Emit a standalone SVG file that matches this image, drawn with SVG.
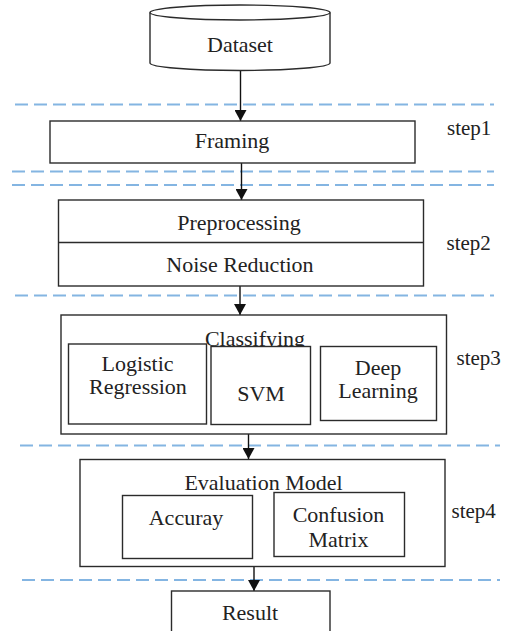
<svg xmlns="http://www.w3.org/2000/svg" width="509" height="631" viewBox="0 0 509 631">
<defs>
<marker id="arr" markerWidth="12" markerHeight="12" refX="11" refY="6" orient="auto" markerUnits="userSpaceOnUse">
<path d="M0,0 L11,6 L0,12 Z" fill="#111"/>
</marker>
<style>
.box{fill:#fff;stroke:#2b2b2b;stroke-width:1.4}
.dash{stroke:#84b5e2;stroke-width:1.8;stroke-dasharray:13 6;fill:none}
.con{stroke:#111;stroke-width:1.4;fill:none}
</style>
</defs>
<rect width="509" height="631" fill="#fff"/>
<g id="dividers">
<line class="dash" x1="15" y1="104.5" x2="494" y2="104.5"/>
<line class="dash" x1="12" y1="171.5" x2="494" y2="171.5"/>
<line class="dash" x1="12" y1="185" x2="494" y2="185"/>
<line class="dash" x1="15" y1="295.5" x2="494" y2="295.5"/>
<line class="dash" x1="20" y1="445.5" x2="500" y2="445.5"/>
<line class="dash" x1="22" y1="580" x2="500" y2="580"/>
</g>
<g id="connectors">
<line class="con" x1="240.5" y1="70" x2="240.5" y2="121" marker-end="url(#arr)"/>
<line class="con" x1="241.5" y1="163" x2="241.5" y2="200" marker-end="url(#arr)"/>
<line class="con" x1="240" y1="286" x2="240" y2="315" marker-end="url(#arr)"/>
<line class="con" x1="248.5" y1="434" x2="248.5" y2="459" marker-end="url(#arr)"/>
<line class="con" x1="254" y1="567" x2="254" y2="591" marker-end="url(#arr)"/>
</g>
<g id="dataset">
<path class="box" d="M150,12.5 L150,63 A90,7.5 0 0 0 330,63 L330,12.5"/>
<ellipse class="box" cx="240" cy="12.5" rx="90" ry="7.5"/>
<text x="240" y="52" font-family="Liberation Serif" font-size="22" fill="#222" text-anchor="middle">Dataset</text>
</g>
<g id="framing">
<rect class="box" x="50" y="121" width="365" height="42"/>
<text x="232" y="148" font-family="Liberation Serif" font-size="22" fill="#222" text-anchor="middle">Framing</text>
</g>
<g id="preprocessing">
<rect class="box" x="58.5" y="200" width="365" height="86"/>
<line class="box" x1="58.5" y1="242.5" x2="423.5" y2="242.5"/>
<text x="239" y="230" font-family="Liberation Serif" font-size="22" fill="#222" text-anchor="middle">Preprocessing</text>
<text x="240" y="272" font-family="Liberation Serif" font-size="22" fill="#222" text-anchor="middle">Noise Reduction</text>
</g>
<g id="classifying">
<rect class="box" x="61" y="315" width="385.5" height="119"/>
<text x="255" y="346" font-family="Liberation Serif" font-size="22" fill="#222" text-anchor="middle">Classifying</text>
<g id="logistic">
<rect class="box" x="68.5" y="344" width="138" height="80"/>
<text x="137.5" y="371" font-family="Liberation Serif" font-size="22" fill="#222" text-anchor="middle">Logistic</text>
<text x="138" y="394" font-family="Liberation Serif" font-size="22" fill="#222" text-anchor="middle">Regression</text>
</g>
<g id="svm">
<rect class="box" x="211" y="346.5" width="99.5" height="78"/>
<text x="261" y="401" font-family="Liberation Serif" font-size="22" fill="#222" text-anchor="middle">SVM</text>
</g>
<g id="deep">
<rect class="box" x="320.5" y="346.5" width="116" height="74"/>
<text x="378" y="375" font-family="Liberation Serif" font-size="22" fill="#222" text-anchor="middle">Deep</text>
<text x="378" y="398" font-family="Liberation Serif" font-size="22" fill="#222" text-anchor="middle">Learning</text>
</g>
</g>
<g id="evaluation">
<rect class="box" x="80" y="459.5" width="365" height="107"/>
<text x="263.5" y="490" font-family="Liberation Serif" font-size="22" fill="#222" text-anchor="middle">Evaluation Model</text>
<g id="accuray">
<rect class="box" x="122.5" y="495.5" width="130" height="63"/>
<text x="186" y="525" font-family="Liberation Serif" font-size="22" fill="#222" text-anchor="middle">Accuray</text>
</g>
<g id="confusion">
<rect class="box" x="274" y="492.5" width="130.5" height="64"/>
<text x="338.5" y="521.5" font-family="Liberation Serif" font-size="22" fill="#222" text-anchor="middle">Confusion</text>
<text x="338.5" y="546.5" font-family="Liberation Serif" font-size="22" fill="#222" text-anchor="middle">Matrix</text>
</g>
</g>
<g id="result">
<rect class="box" x="171.5" y="591" width="158.5" height="42"/>
<text x="250" y="620" font-family="Liberation Serif" font-size="22" fill="#222" text-anchor="middle">Result</text>
</g>
<g id="steps">
<text x="447" y="135" font-family="Liberation Serif" font-size="21" fill="#222">step1</text>
<text x="446.5" y="250" font-family="Liberation Serif" font-size="21" fill="#222">step2</text>
<text x="456.5" y="365" font-family="Liberation Serif" font-size="21" fill="#222">step3</text>
<text x="451.5" y="518" font-family="Liberation Serif" font-size="21" fill="#222">step4</text>
</g>
</svg>
